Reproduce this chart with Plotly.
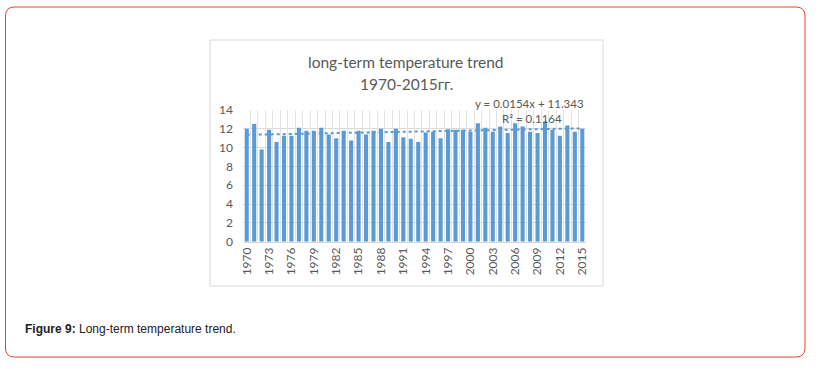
import plotly.graph_objects as go

# ---- data ----
years = list(range(1970, 2016))
temps = [12.0, 12.5, 9.8, 11.9, 10.6, 11.25, 11.25, 12.1, 11.8, 11.8,
         12.1, 11.4, 11.0, 11.8, 10.75, 11.8, 11.4, 11.8, 12.0, 10.6,
         12.0, 11.1, 10.95, 10.6, 11.6, 11.7, 11.0, 11.95, 11.9, 11.9,
         11.7, 12.6, 12.1, 11.7, 12.25, 11.55, 12.6, 12.25, 11.7, 11.55,
         12.8, 11.9, 11.25, 12.35, 11.7, 12.0]
trend_slope = 0.0154
trend_intercept = 11.343
r_squared = 0.1164
tick_years = years[::3]
y_ticks = [0, 2, 4, 6, 8, 10, 12, 14]

title_lines = ["long-term temperature trend", "1970-2015гг."]
caption_bold = "Figure 9:"
caption_rest = " Long-term temperature trend."

W, H = 818, 369
def px(x):
    return x / W
def py(y):
    return 1 - y / H

BLUE = "#5B9BD5"
GRID = "#D9D9D9"
TXT = "#595959"
FONT = "Lato"

trend = [trend_slope * (i + 1) + trend_intercept for i in range(len(years))]

fig = go.Figure()
fig.add_trace(go.Bar(x=years, y=temps, marker=dict(color=BLUE, line=dict(width=0)),
                     showlegend=False, hoverinfo="x+y"))
fig.add_trace(go.Scatter(x=years, y=trend, mode="lines",
                         line=dict(color=BLUE, width=2, dash="dot"),
                         showlegend=False, hoverinfo="skip"))
# invisible trace so the category-boundary grid axis renders
fig.add_trace(go.Scatter(x=[years[0]], y=[0], xaxis="x2", mode="markers",
                         marker=dict(opacity=0), showlegend=False, hoverinfo="skip"))

xdom = [px(243), px(586)]
ydom = [py(241.7), py(110)]
xr = [years[0] - 0.5, years[-1] + 0.5]

fig.update_layout(
    width=W, height=H,
    margin=dict(l=0, r=0, t=0, b=0, pad=0, autoexpand=False),
    paper_bgcolor="white", plot_bgcolor="white",
    bargap=0.45,
    xaxis=dict(domain=xdom, range=xr, tickvals=tick_years, automargin=False,
               ticktext=[str(y) for y in tick_years], tickangle=-90,
               showgrid=False, zeroline=False, showline=True, linecolor=GRID,
               ticks="", tickfont=dict(family=FONT, size=12, color=TXT),
               fixedrange=True),
    xaxis2=dict(domain=xdom, range=xr, overlaying="x", anchor="y", automargin=False,
                tick0=years[0] - 0.5, dtick=1, showgrid=True, gridcolor="#E3E3E3",
                gridwidth=1, showticklabels=False, ticks="", zeroline=False,
                showline=False, layer="below traces", fixedrange=True),
    yaxis=dict(domain=ydom, range=[0, 14], tickvals=y_ticks, automargin=False,
               showgrid=True, gridcolor=GRID, gridwidth=1, zeroline=False,
               showline=False, ticks="", ticklabelstandoff=9,
               tickfont=dict(family=FONT, size=12, color=TXT), fixedrange=True),
)

shapes = []
# chart box
shapes.append(dict(type="rect", xref="paper", yref="paper",
                   x0=px(210), x1=px(603), y0=py(286), y1=py(40),
                   line=dict(color=GRID, width=1), layer="below"))
# outer red rounded frame
x0, x1, y0, y1, r = 5.5, 805, 7, 357, 9
path = (f"M {px(x0+r)},{py(y0)} L {px(x1-r)},{py(y0)} "
        f"Q {px(x1)},{py(y0)} {px(x1)},{py(y0+r)} "
        f"L {px(x1)},{py(y1-r)} Q {px(x1)},{py(y1)} {px(x1-r)},{py(y1)} "
        f"L {px(x0+r)},{py(y1)} Q {px(x0)},{py(y1)} {px(x0)},{py(y1-r)} "
        f"L {px(x0)},{py(y0+r)} Q {px(x0)},{py(y0)} {px(x0+r)},{py(y0)} Z")
shapes.append(dict(type="path", xref="paper", yref="paper", path=path,
                   line=dict(color="#E5432D", width=1)))
fig.update_layout(shapes=shapes)

ann = []
ann.append(dict(text=title_lines[0], x=px(406), y=py(62), xref="paper", yref="paper",
                showarrow=False, xanchor="center", yanchor="middle",
                font=dict(family=FONT, size=15.5, color=TXT)))
ann.append(dict(text=title_lines[1], x=px(406), y=py(84), xref="paper", yref="paper",
                showarrow=False, xanchor="center", yanchor="middle",
                font=dict(family=FONT, size=15.5, color=TXT)))
ann.append(dict(text=f"y = {trend_slope}x + {trend_intercept}", x=px(586), y=py(103),
                xref="paper", yref="paper", showarrow=False, xanchor="right",
                yanchor="middle", font=dict(family=FONT, size=11.5, color=TXT)))
ann.append(dict(text=f"R² = {r_squared}", x=px(500), y=py(119),
                xref="paper", yref="paper", showarrow=False, xanchor="left",
                yanchor="middle", font=dict(family=FONT, size=11.5, color=TXT)))
ann.append(dict(text=f"<b>{caption_bold}</b>{caption_rest}", x=px(23), y=py(329),
                xref="paper", yref="paper", showarrow=False, xanchor="left",
                yanchor="middle", font=dict(family="Liberation Sans, Arial", size=12,
                                            color="#222222")))
fig.update_layout(annotations=ann)

fig.write_html("out.html", config={"displayModeBar": False},
               post_script="document.body.style.margin='0';document.body.style.overflow='hidden';")
